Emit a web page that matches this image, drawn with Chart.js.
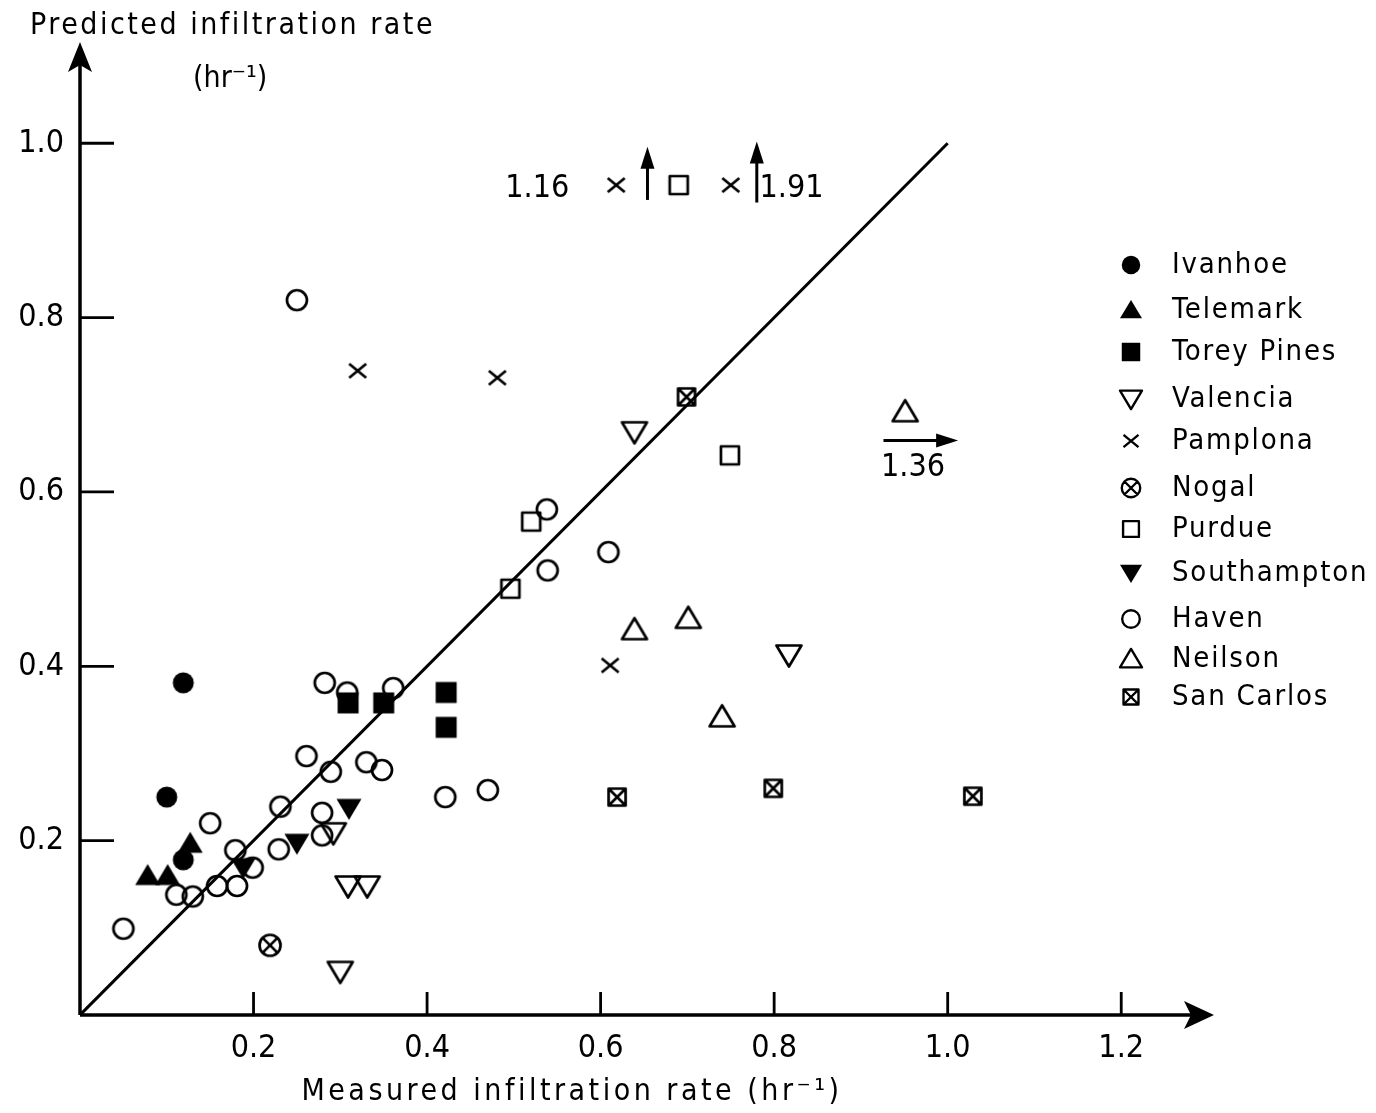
<!DOCTYPE html>
<html>
<head>
<meta charset="utf-8">
<title>Predicted vs measured infiltration rate</title>
<script src="https://cdn.jsdelivr.net/npm/chart.js@4.4.1/dist/chart.umd.min.js"></script>
<style>
  html, body { margin: 0; padding: 0; background: #fff; }
</style>
</head>
<body>
<canvas id="chart" width="1376" height="1113"></canvas>
<script>
// measured (x) vs predicted (y) infiltration rate, hr^-1
const ivanhoeX = [0.119, 0.100, 0.119];
const ivanhoeY = [0.381, 0.250, 0.178];
const telemarkX = [0.078, 0.101, 0.127];
const telemarkY = [0.160, 0.160, 0.197];
const toreyX = [0.309, 0.350, 0.422, 0.422];
const toreyY = [0.358, 0.358, 0.370, 0.330];
const valenciaX = [0.639, 0.817, 0.292, 0.309, 0.331, 0.300];
const valenciaY = [0.669, 0.413, 0.209, 0.148, 0.148, 0.050];
// the two at 0.952 are off the scale (1.16 and 1.91), drawn at the top
const pamplonaX = [0.320, 0.481, 0.611, 0.618, 0.750];
const pamplonaY = [0.739, 0.731, 0.401, 0.952, 0.952];
const nogalX = [0.219];
const nogalY = [0.080];
const purdueX = [0.520, 0.496, 0.749, 0.690];
const purdueY = [0.566, 0.489, 0.642, 0.952];
const southamptonX = [0.188, 0.250, 0.310];
const southamptonY = [0.169, 0.197, 0.237];
const havenX = [0.250, 0.538, 0.609, 0.539, 0.282, 0.308, 0.361, 0.261, 0.289, 0.330, 0.348,
  0.421, 0.470, 0.231, 0.279, 0.279, 0.150, 0.179, 0.229, 0.199, 0.158, 0.181, 0.111, 0.130, 0.050];
const havenY = [0.820, 0.580, 0.531, 0.510, 0.381, 0.370, 0.375, 0.297, 0.279, 0.290, 0.281,
  0.250, 0.258, 0.239, 0.232, 0.206, 0.220, 0.189, 0.190, 0.169, 0.148, 0.148, 0.138, 0.136, 0.099];
// last one is off the scale (1.36)
const neilsonX = [0.639, 0.701, 0.740, 0.951];
const neilsonY = [0.442, 0.455, 0.342, 0.692];
const sanCarlosX = [0.699, 0.619, 0.799, 1.029];
const sanCarlosY = [0.709, 0.250, 0.260, 0.251];

const xTicks = [0.2, 0.4, 0.6, 0.8, 1.0, 1.2];
const yTicks = [0.2, 0.4, 0.6, 0.8, 1.0];

// off-scale notes: [text, x, y]
const notes = [["1.16", 0.527, 0.948], ["1.91", 0.820, 0.948], ["1.36", 0.960, 0.628]];
// arrows: [x1, y1, x2, y2]
const arrows = [[0.654, 0.935, 0.654, 0.996], [0.780, 0.932, 0.780, 1.002], [0.926, 0.659, 1.012, 0.659]];

const FONT = "'DejaVu Sans Condensed', 'Liberation Sans Narrow', 'DejaVu Sans', sans-serif";

function makeMarker(kind, scale) {
  const size = Math.ceil(34 * scale);
  const c = document.createElement("canvas");
  c.width = size;
  c.height = size;
  const g = c.getContext("2d");
  g.translate(size / 2, size / 2);
  g.scale(scale, scale);
  g.lineWidth = 2.7;
  g.strokeStyle = "#000";
  g.fillStyle = "#000";
  g.lineJoin = "round";
  g.beginPath();
  if (kind === "dot") {
    g.arc(0, 0, 10.5, 0, Math.PI * 2);
    g.fill();
  } else if (kind === "circle") {
    g.arc(0, 0, 10, 0, Math.PI * 2);
    g.stroke();
  } else if (kind === "triUpFill" || kind === "triUp") {
    g.moveTo(0, -11.5); g.lineTo(12.5, 9.5); g.lineTo(-12.5, 9.5); g.closePath();
    kind === "triUpFill" ? g.fill() : g.stroke();
  } else if (kind === "triDownFill" || kind === "triDown") {
    g.moveTo(-12.5, -9.5); g.lineTo(12.5, -9.5); g.lineTo(0, 11.5); g.closePath();
    kind === "triDownFill" ? g.fill() : g.stroke();
  } else if (kind === "squareFill") {
    g.rect(-10.5, -10.5, 21, 21);
    g.fill();
  } else if (kind === "square") {
    g.rect(-9, -9, 18, 18);
    g.stroke();
  } else if (kind === "cross") {
    g.moveTo(-8.5, -7); g.lineTo(8.5, 7); g.moveTo(-8.5, 7); g.lineTo(8.5, -7);
    g.stroke();
  } else if (kind === "circleX") {
    g.arc(0, 0, 10.5, 0, Math.PI * 2);
    g.moveTo(-7.4, -7.4); g.lineTo(7.4, 7.4); g.moveTo(-7.4, 7.4); g.lineTo(7.4, -7.4);
    g.stroke();
  } else if (kind === "boxX") {
    g.rect(-8.5, -8.5, 17, 17);
    g.moveTo(-8.5, -8.5); g.lineTo(8.5, 8.5); g.moveTo(-8.5, 8.5); g.lineTo(8.5, -8.5);
    g.stroke();
  }
  return c;
}

const series = [
  ["Ivanhoe", ivanhoeX, ivanhoeY, "dot"],
  ["Telemark", telemarkX, telemarkY, "triUpFill"],
  ["Torey Pines", toreyX, toreyY, "squareFill"],
  ["Valencia", valenciaX, valenciaY, "triDown"],
  ["Pamplona", pamplonaX, pamplonaY, "cross"],
  ["Nogal", nogalX, nogalY, "circleX"],
  ["Purdue", purdueX, purdueY, "square"],
  ["Southampton", southamptonX, southamptonY, "triDownFill"],
  ["Haven", havenX, havenY, "circle"],
  ["Neilson", neilsonX, neilsonY, "triUp"],
  ["San Carlos", sanCarlosX, sanCarlosY, "boxX"]
];

const datasets = series.map(function (s) {
  return {
    label: s[0],
    data: s[1].map((x, i) => ({ x: x, y: s[2][i] })),
    pointStyle: makeMarker(s[3], 1),
    pointRadius: 10,
    showLine: false
  };
});

// 1:1 line
datasets.push({
  type: "line",
  label: "1:1",
  data: [{ x: 0, y: 0 }, { x: 1, y: 1 }],
  borderColor: "#000",
  borderWidth: 3,
  pointRadius: 0,
  fill: false
});

// legend rows drawn by hand on the right
const legendY = [265, 310, 352, 399, 441, 488, 529, 573, 619, 659, 697];

const decor = {
  id: "decor",
  beforeDraw(chart) {
    const ctx = chart.ctx;
    ctx.save();
    ctx.fillStyle = "#fff";
    ctx.fillRect(0, 0, chart.width, chart.height);
    ctx.restore();
  },
  afterDraw(chart) {
    const ctx = chart.ctx;
    const xs = chart.scales.x, ys = chart.scales.y;
    const x0 = xs.getPixelForValue(0), y0 = ys.getPixelForValue(0);
    ctx.save();
    ctx.strokeStyle = "#000";
    ctx.fillStyle = "#000";
    ctx.lineWidth = 3.5;

    // axes with arrow heads
    ctx.beginPath();
    ctx.moveTo(x0, y0);
    ctx.lineTo(1200, y0);
    ctx.moveTo(x0, y0);
    ctx.lineTo(x0, 60);
    ctx.stroke();
    ctx.beginPath();
    ctx.moveTo(1214, y0); ctx.lineTo(1184, y0 - 14); ctx.lineTo(1191, y0); ctx.lineTo(1184, y0 + 14); ctx.closePath();
    ctx.fill();
    ctx.beginPath();
    ctx.moveTo(x0, 42); ctx.lineTo(x0 + 12, 72); ctx.lineTo(x0, 65); ctx.lineTo(x0 - 12, 72); ctx.closePath();
    ctx.fill();

    // inward ticks
    ctx.lineWidth = 2.8;
    ctx.beginPath();
    xTicks.forEach(function (v) {
      const px = xs.getPixelForValue(v);
      ctx.moveTo(px, y0);
      ctx.lineTo(px, y0 - 23);
    });
    yTicks.forEach(function (v) {
      const py = ys.getPixelForValue(v);
      ctx.moveTo(x0, py);
      ctx.lineTo(x0 + 34, py);
    });
    ctx.stroke();

    // off-scale arrows
    ctx.lineWidth = 3;
    arrows.forEach(function (a) {
      const p1x = xs.getPixelForValue(a[0]), p1y = ys.getPixelForValue(a[1]);
      const p2x = xs.getPixelForValue(a[2]), p2y = ys.getPixelForValue(a[3]);
      const ang = Math.atan2(p2y - p1y, p2x - p1x);
      ctx.beginPath();
      ctx.moveTo(p1x, p1y);
      ctx.lineTo(p2x - 12 * Math.cos(ang), p2y - 12 * Math.sin(ang));
      ctx.stroke();
      ctx.save();
      ctx.translate(p2x, p2y);
      ctx.rotate(ang);
      ctx.beginPath();
      ctx.moveTo(0, 0); ctx.lineTo(-22, -7); ctx.lineTo(-22, 7); ctx.closePath();
      ctx.fill();
      ctx.restore();
    });

    // notes
    ctx.font = "32px " + FONT;
    ctx.textAlign = "center";
    ctx.textBaseline = "middle";
    notes.forEach(function (n) {
      ctx.fillText(n[0], xs.getPixelForValue(n[1]), ys.getPixelForValue(n[2]));
    });

    // axis titles
    ctx.font = "30px " + FONT;
    ctx.letterSpacing = "2.5px";
    ctx.textAlign = "left";
    ctx.fillText("Predicted infiltration rate", 30, 26);
    ctx.letterSpacing = "0px";
    ctx.fillText("(hr\u207B\u00B9)", 193, 79);
    ctx.letterSpacing = "3.5px";
    ctx.textAlign = "center";
    ctx.fillText("Measured infiltration rate (hr\u207B\u00B9)", 572, 1092);

    // legend
    ctx.font = "29px " + FONT;
    ctx.letterSpacing = "1.8px";
    ctx.textAlign = "left";
    series.forEach(function (s, i) {
      const m = makeMarker(s[3], 0.88);
      ctx.drawImage(m, 1131 - m.width / 2, legendY[i] - m.height / 2);
      ctx.fillText(s[0], 1172, legendY[i]);
    });
    ctx.restore();
  }
};

const ctx = document.getElementById("chart").getContext("2d");
new Chart(ctx, {
  type: "scatter",
  data: { datasets: datasets },
  plugins: [decor],
  options: {
    responsive: false,
    animation: false,
    layout: { padding: { left: 0, right: 168, top: 43, bottom: 0 } },
    plugins: { legend: { display: false }, tooltip: { enabled: false } },
    scales: {
      x: {
        type: "linear",
        min: 0,
        max: 1.3,
        afterFit: function (scale) { scale.height = 98; },
        afterBuildTicks: function (scale) { scale.ticks = xTicks.map(v => ({ value: v })); },
        grid: { display: false, drawTicks: false },
        border: { display: false },
        ticks: {
          padding: 14,
          color: "#000",
          font: { family: FONT, size: 32 },
          callback: v => v.toFixed(1)
        }
      },
      y: {
        type: "linear",
        min: 0,
        max: 1.115,
        afterFit: function (scale) { scale.width = 80; },
        afterBuildTicks: function (scale) { scale.ticks = yTicks.map(v => ({ value: v })); },
        grid: { display: false, drawTicks: false },
        border: { display: false },
        ticks: {
          padding: 16,
          color: "#000",
          font: { family: FONT, size: 32 },
          callback: v => v.toFixed(1)
        }
      }
    }
  }
});
</script>
</body>
</html>
